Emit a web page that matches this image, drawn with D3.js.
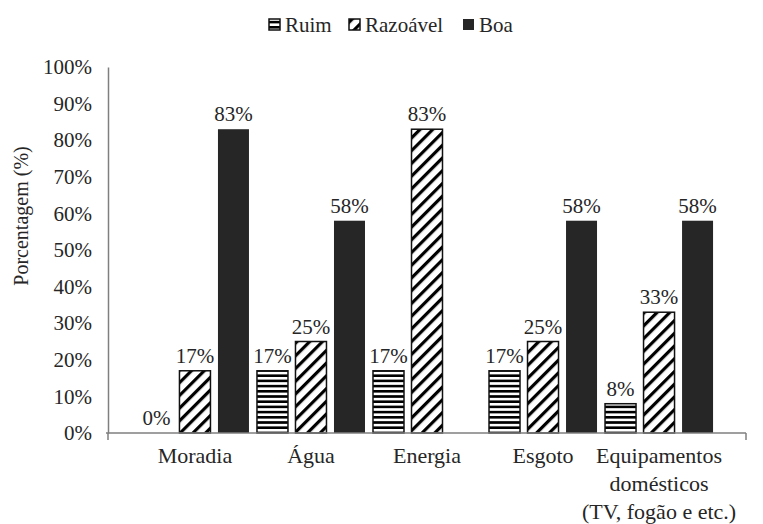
<!DOCTYPE html>
<html><head><meta charset="utf-8">
<script src="https://cdn.jsdelivr.net/npm/d3@7/dist/d3.min.js"></script>
<style>
@font-face{font-family:"ChartSerif";src:local("Liberation Serif"),local("LiberationSerif"),local("Times New Roman"),local("Tinos");}
</style>
</head><body style="margin:0"><svg id="c" width="763" height="524"></svg>
<script>
const categories = ["Moradia","Água","Energia","Esgoto","Equipamentos\ndomésticos\n(TV, fogão e etc.)"];
const series = ["Ruim","Razoável","Boa"];
const ruim = [0,17,17,17,8];
const razoavel = [17,25,83,25,33];
const boa = [83,58,0,58,58];
const yTicks = [0,10,20,30,40,50,60,70,80,90,100];
const yTitle = "Porcentagem (%)";

const values = [ruim, razoavel, boa];
const showLabel = [[true,true,true,true,true],[true,true,true,true,true],[true,true,false,true,true]];
const TXT = "#262626";
const FAM = '"Times New Roman"';

const svg = d3.select("#c");
const defs = svg.append("defs");
const ph = defs.append("pattern").attr("id","pRuim").attr("patternUnits","userSpaceOnUse").attr("width",8).attr("height",5.2);
ph.append("rect").attr("width",8).attr("height",5.2).attr("fill","#fff");
ph.append("rect").attr("y",0).attr("width",8).attr("height",2.6).attr("fill","#000");
const pd = defs.append("pattern").attr("id","pRaz").attr("patternUnits","userSpaceOnUse").attr("width",9).attr("height",9).attr("patternTransform","rotate(45)");
pd.append("rect").attr("width",9).attr("height",9).attr("fill","#fff");
pd.append("rect").attr("x",0).attr("width",3.2).attr("height",9).attr("fill","#000");
const fills = ["url(#pRuim)","url(#pRaz)","#262626"];

const x0 = 108, x1 = 746, yTop = 67, yBot = 433;
const x = d3.scaleBand().domain(categories).range([x0,x1]).paddingInner(0.069).paddingOuter(0.284);
const xs = d3.scaleBand().domain(series).range([0,x.bandwidth()]).paddingInner(0.195);
const y = d3.scaleLinear().domain([0,100]).range([yBot,yTop]);

function txt(sel, size){
  return sel.style("font-family",FAM).attr("font-size",size).attr("fill",TXT);
}

// y axis
const ya = svg.append("g").attr("transform",`translate(${x0},0)`)
  .call(d3.axisLeft(y).tickValues(yTicks).tickSize(0).tickPadding(16).tickFormat(d=>d+"%"));
ya.attr("font-family",null).attr("font-size",null);
ya.select(".domain").attr("stroke","#7f7f7f").attr("stroke-width",1.5);
txt(ya.selectAll("text"),21);
txt(svg.append("text").attr("transform",`translate(28,216) rotate(-90)`).attr("text-anchor","middle"),20).text(yTitle);

// bars
const g = svg.append("g");
categories.forEach((c,ci)=>{
  series.forEach((s,si)=>{
    const v = values[si][ci];
    const bx = x(c)+xs(s);
    if (v>0) {
      g.append("rect").attr("x",bx).attr("y",y(v)).attr("width",xs.bandwidth()).attr("height",y(0)-y(v))
        .attr("fill",fills[si]).attr("stroke","#111").attr("stroke-width",si===2?0:1.5);
    }
    if (showLabel[si][ci]) {
      txt(g.append("text").attr("x",bx+xs.bandwidth()/2).attr("y",y(v)-8).attr("text-anchor","middle"),21).text(v+"%");
    }
  });
});

// x axis
const xa = svg.append("g").attr("transform",`translate(0,${yBot})`);
xa.append("line").attr("x1",x0-2).attr("x2",x1).attr("stroke","#7f7f7f").attr("stroke-width",1.5);
xa.append("line").attr("x1",x0).attr("x2",x0).attr("y1",0).attr("y2",7).attr("stroke","#7f7f7f").attr("stroke-width",1.5);
xa.append("line").attr("x1",x1).attr("x2",x1).attr("y1",0).attr("y2",7).attr("stroke","#7f7f7f").attr("stroke-width",1.5);
categories.forEach(c=>{
  const lines = c.split("\n");
  lines.forEach((l,i)=>txt(xa.append("text").attr("text-anchor","middle"),22)
    .attr("x",x(c)+x.bandwidth()/2).attr("y",30+i*28).text(l));
});

// legend
const leg = svg.append("g");
const legX = [269,349,463];
series.forEach((s,i)=>{
  leg.append("rect").attr("x",legX[i]).attr("y",19).attr("width",11).attr("height",11)
    .attr("fill",fills[i]).attr("stroke","#111").attr("stroke-width",i===2?0:1.5);
  txt(leg.append("text").attr("x",legX[i]+16).attr("y",32),21).text(s);
});
</script></body></html>
